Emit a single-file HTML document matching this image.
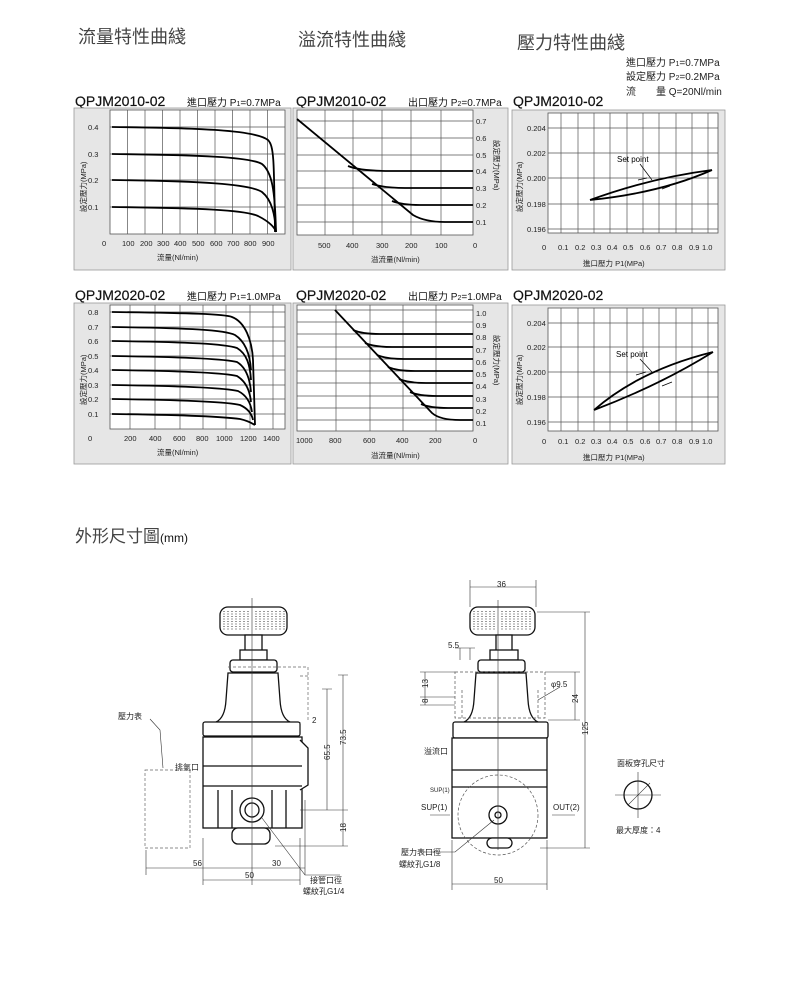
<!DOCTYPE html>
<html><head><meta charset="utf-8"><style>
html,body{margin:0;padding:0;background:#fff;}
svg{display:block;font-family:"Liberation Sans","Noto Sans CJK TC",sans-serif;}
</style></head><body>
<svg width="800" height="995" viewBox="0 0 800 995" xmlns="http://www.w3.org/2000/svg">
<rect width="800" height="995" fill="#fff"/>
<g font-size="18" fill="#444">
<text x="78" y="43">流量特性曲綫</text>
<text x="298" y="46">溢流特性曲綫</text>
<text x="517" y="49">壓力特性曲綫</text>
</g>
<g font-size="10" fill="#222">
<text x="626" y="66">進口壓力 P<tspan font-size="7">1</tspan>=0.7MPa</text>
<text x="626" y="80">設定壓力 P<tspan font-size="7">2</tspan>=0.2MPa</text>
<text x="626" y="95">流　　量 Q=20Nl/min</text>
</g>
<g fill="#111">
<text x="75" y="106" font-size="14" stroke="#111" stroke-width="0.2">QPJM2010-02</text>
<text x="187" y="106" font-size="10">進口壓力 P<tspan font-size="7">1</tspan>=0.7MPa</text>
<text x="296" y="106" font-size="14" stroke="#111" stroke-width="0.2">QPJM2010-02</text>
<text x="408" y="106" font-size="10">出口壓力 P<tspan font-size="7">2</tspan>=0.7MPa</text>
<text x="513" y="106" font-size="14" stroke="#111" stroke-width="0.2">QPJM2010-02</text>
<text x="75" y="300" font-size="14" stroke="#111" stroke-width="0.2">QPJM2020-02</text>
<text x="187" y="300" font-size="10">進口壓力 P<tspan font-size="7">1</tspan>=1.0MPa</text>
<text x="296" y="300" font-size="14" stroke="#111" stroke-width="0.2">QPJM2020-02</text>
<text x="408" y="300" font-size="10">出口壓力 P<tspan font-size="7">2</tspan>=1.0MPa</text>
<text x="513" y="300" font-size="14" stroke="#111" stroke-width="0.2">QPJM2020-02</text>
</g>
<g fill="#e6e6e6" stroke="#999" stroke-width="0.8">
<rect x="74" y="108" width="217" height="162"/>
<rect x="293" y="108" width="215" height="162"/>
<rect x="512" y="110" width="213" height="160"/>
<rect x="74" y="303" width="217" height="161"/>
<rect x="293" y="303" width="215" height="161"/>
<rect x="512" y="305" width="213" height="159"/>
</g>
<g fill="#fff" stroke="#555" stroke-width="0.8">
<rect x="110" y="110" width="175" height="124"/>
<rect x="297" y="110" width="176" height="125"/>
<rect x="548" y="113" width="170" height="120"/>
<rect x="110" y="305" width="175" height="124"/>
<rect x="297" y="305" width="176" height="126"/>
<rect x="548" y="308" width="170" height="123"/>
</g>
<g stroke="#555" stroke-width="0.7">
<path d="M127.5 110V234M145 110V234M162.5 110V234M180 110V234M197.5 110V234M215 110V234M232.5 110V234M250 110V234M267.5 110V234M110 127H285M110 154H285M110 180H285M110 207H285"/>
<path d="M325 110V235M353 110V235M382 110V235M411 110V235M441 110V235M297 121H473M297 138H473M297 155H473M297 171H473M297 188H473M297 205H473M297 222H473"/>
<path d="M561 113V233M578 113V233M594 113V233M610 113V233M627 113V233M643 113V233M659 113V233M676 113V233M692 113V233M708 113V233M548 128H718M548 153H718M548 178H718M548 204H718M548 229H718"/>
<path d="M130 305V429M155 305V429M180 305V429M203 305V429M226 305V429M250 305V429M273 305V429M110 312H285M110 327H285M110 341H285M110 356H285M110 370H285M110 385H285M110 399H285M110 414H285"/>
<path d="M336 305V431M370 305V431M403 305V431M436 305V431M297 310H473M297 322H473M297 334H473M297 347H473M297 359H473M297 371H473M297 383H473M297 396H473M297 408H473M297 420H473"/>
<path d="M561 308V431M578 308V431M594 308V431M610 308V431M627 308V431M643 308V431M659 308V431M676 308V431M692 308V431M708 308V431M548 323H718M548 347H718M548 372H718M548 397H718M548 422H718"/>
</g>
<g fill="none" stroke="#000" stroke-width="1.8">
<path d="M112 127C200 128 255 130 268 140C274 146 274 160 275 232"/>
<path d="M112 154C200 155 250 157 262 164C272 172 275 190 276 232"/>
<path d="M112 180C200 181 250 184 262 192C272 200 275 215 276 232"/>
<path d="M112 207C200 208 245 210 258 216C270 222 275 228 276 232"/>
<path d="M297 119L413 215Q425 222 445 222L473 222"/>
<path d="M348 166Q360 171 390 171L473 171"/>
<path d="M372 184Q385 188 405 188L473 188"/>
<path d="M392 201Q402 205 420 205L473 205"/>
<path d="M590 200Q650 178 712 170M590 200Q660 193 712 170"/>
<path d="M112 312C190 313 225 314 232 317C245 322 252 340 253 360L255 425"/>
<path d="M112 327C190 328 225 330 235 335C246 342 250 355 251 370"/>
<path d="M112 341C190 342 225 344 237 348C247 354 250 365 251 380"/>
<path d="M112 356C190 357 225 359 237 362C247 368 250 380 251 392"/>
<path d="M112 370C190 371 225 373 237 376C247 382 250 392 251 402"/>
<path d="M112 385C190 386 225 388 238 391C248 396 251 405 252 412"/>
<path d="M112 399C190 400 228 402 240 405C249 409 252 415 253 420"/>
<path d="M112 414C190 415 225 417 240 419C249 421 253 424 255 425"/>
<path d="M335 310L432 413Q440 420 460 420L473 420"/>
<path d="M353 330Q362 334 380 334L473 334"/>
<path d="M365 343Q374 347 392 347L473 347"/>
<path d="M377 355Q386 359 404 359L473 359"/>
<path d="M388 367Q397 371 415 371L473 371"/>
<path d="M399 379Q408 383 426 383L473 383"/>
<path d="M410 392Q419 396 437 396L473 396"/>
<path d="M421 404Q430 408 448 408L473 408"/>
<path d="M594 410Q640 370 713 352M594 410Q660 385 713 352"/>
</g>
<g font-size="8" fill="#000">
<text x="617" y="162">Set point</text>
<text x="616" y="357">Set point</text>
</g>
<g stroke="#000" stroke-width="0.7" fill="none">
<path d="M640 164L652 180M638 180L647 178M670 186L662 189"/>
<path d="M640 359L652 372M636 375L646 372M672 382L662 386"/>
</g>
<g font-size="7.5" fill="#222">
<text x="88" y="130">0.4</text><text x="88" y="157">0.3</text><text x="88" y="183">0.2</text><text x="88" y="210">0.1</text>
<text x="102" y="246">0</text><text x="122" y="246">100</text><text x="140" y="246">200</text><text x="157" y="246">300</text><text x="174" y="246">400</text><text x="192" y="246">500</text><text x="210" y="246">600</text><text x="227" y="246">700</text><text x="244" y="246">800</text><text x="262" y="246">900</text>
<text x="157" y="260">流量(Nl/min)</text>
<text x="476" y="124">0.7</text><text x="476" y="141">0.6</text><text x="476" y="158">0.5</text><text x="476" y="174">0.4</text><text x="476" y="191">0.3</text><text x="476" y="208">0.2</text><text x="476" y="225">0.1</text>
<text x="318" y="248">500</text><text x="346" y="248">400</text><text x="376" y="248">300</text><text x="405" y="248">200</text><text x="435" y="248">100</text><text x="473" y="248">0</text>
<text x="371" y="262">溢流量(Nl/min)</text>
<text x="527" y="131">0.204</text><text x="527" y="156">0.202</text><text x="527" y="181">0.200</text><text x="527" y="207">0.198</text><text x="527" y="232">0.196</text>
<text x="542" y="250">0</text><text x="558" y="250">0.1</text><text x="575" y="250">0.2</text><text x="591" y="250">0.3</text><text x="607" y="250">0.4</text><text x="623" y="250">0.5</text><text x="640" y="250">0.6</text><text x="656" y="250">0.7</text><text x="672" y="250">0.8</text><text x="689" y="250">0.9</text><text x="702" y="250">1.0</text>
<text x="583" y="266">進口壓力 P1(MPa)</text>
<text x="88" y="315">0.8</text><text x="88" y="330">0.7</text><text x="88" y="344">0.6</text><text x="88" y="359">0.5</text><text x="88" y="373">0.4</text><text x="88" y="388">0.3</text><text x="88" y="402">0.2</text><text x="88" y="417">0.1</text>
<text x="88" y="441">0</text><text x="124" y="441">200</text><text x="149" y="441">400</text><text x="173" y="441">600</text><text x="196" y="441">800</text><text x="216" y="441">1000</text><text x="240" y="441">1200</text><text x="263" y="441">1400</text>
<text x="157" y="455">流量(Nl/min)</text>
<text x="476" y="316">1.0</text><text x="476" y="328">0.9</text><text x="476" y="340">0.8</text><text x="476" y="353">0.7</text><text x="476" y="365">0.6</text><text x="476" y="377">0.5</text><text x="476" y="389">0.4</text><text x="476" y="402">0.3</text><text x="476" y="414">0.2</text><text x="476" y="426">0.1</text>
<text x="296" y="443">1000</text><text x="329" y="443">800</text><text x="363" y="443">600</text><text x="396" y="443">400</text><text x="429" y="443">200</text><text x="473" y="443">0</text>
<text x="371" y="458">溢流量(Nl/min)</text>
<text x="527" y="326">0.204</text><text x="527" y="350">0.202</text><text x="527" y="375">0.200</text><text x="527" y="400">0.198</text><text x="527" y="425">0.196</text>
<text x="542" y="444">0</text><text x="558" y="444">0.1</text><text x="575" y="444">0.2</text><text x="591" y="444">0.3</text><text x="607" y="444">0.4</text><text x="623" y="444">0.5</text><text x="640" y="444">0.6</text><text x="656" y="444">0.7</text><text x="672" y="444">0.8</text><text x="689" y="444">0.9</text><text x="702" y="444">1.0</text>
<text x="583" y="460">進口壓力 P1(MPa)</text>
</g>
<g font-size="7.5" fill="#222">
<text transform="translate(86,212) rotate(-90)">設定壓力(MPa)</text>
<text transform="translate(86,405) rotate(-90)">設定壓力(MPa)</text>
<text transform="translate(494,140) rotate(90)">設定壓力(MPa)</text>
<text transform="translate(494,335) rotate(90)">設定壓力(MPa)</text>
<text transform="translate(522,212) rotate(-90)">設定壓力(MPa)</text>
<text transform="translate(522,405) rotate(-90)">設定壓力(MPa)</text>
</g>
<text x="75" y="542" font-size="17" fill="#444">外形尺寸圖<tspan font-size="12" fill="#111">(mm)</tspan></text>

<!-- LEFT DRAWING -->
<g fill="#fff" stroke="#111" stroke-width="1.3">
<rect x="220" y="607" width="67" height="28" rx="8"/>
<rect x="245" y="635" width="17" height="16"/>
<rect x="240" y="650" width="27" height="10"/>
<rect x="230" y="660" width="47" height="12" rx="3"/>
<path d="M228 673H278L280 700Q281 718 290 722H216Q225 718 226 700Z"/>
<rect x="203" y="722" width="97" height="14" rx="2"/>
<rect x="203" y="737" width="99" height="91"/>
<path d="M203 766H302M203 786H302M300 740L308 748V785L300 790"/>
<rect x="232" y="828" width="38" height="16" rx="6"/>
<circle cx="252" cy="810" r="12"/>
<circle cx="252" cy="810" r="7"/>
<path d="M218 790V828M286 790V828M232 790V828M272 790V828"/>
</g>
<g stroke="#333" stroke-width="1" stroke-dasharray="1 1.5">
<path d="M224 611V631M228 611V631M232 611V631M236 611V631M240 611V631M244 611V631M248 611V631M256 611V631M260 611V631M264 611V631M268 611V631M272 611V631M276 611V631M280 611V631M284 611V631"/>
<path d="M474 611V631M478 611V631M482 611V631M486 611V631M490 611V631M494 611V631M502 611V631M506 611V631M510 611V631M514 611V631M518 611V631M522 611V631M526 611V631M530 611V631"/>
</g>
<g fill="none" stroke="#666" stroke-width="0.7" stroke-dasharray="3 2">
<rect x="145" y="770" width="45" height="78"/>
<path d="M228 667H308V720M300 676H308"/>
</g>
<g fill="none" stroke="#333" stroke-width="0.6">
<path d="M252 598V885"/>
<path d="M322 689H332M327 689V810M338 675H348M343 675V846M300 810H348M275 846H348"/>
<path d="M146 850V875M305 800V875M203 838V885M300 838V885M146 868H305M203 880H300"/>
<path d="M262 818L305 875H340M150 719L160 730L163 768M300 722V735"/>
</g>
<g font-size="8" fill="#222">
<text x="330" y="760" transform="rotate(-90 330 760)">65.5</text>
<text x="346" y="745" transform="rotate(-90 346 745)">73.5</text>
<text x="346" y="832" transform="rotate(-90 346 832)">18</text>
<text x="312" y="723">2</text>
<text x="193" y="866">56</text>
<text x="272" y="866">30</text>
<text x="245" y="878">50</text>
<text x="310" y="883">接管口徑</text>
<text x="303" y="894">螺紋孔G1/4</text>
<text x="118" y="719">壓力表</text>
<text x="175" y="770">排氣口</text>
</g>

<!-- RIGHT DRAWING -->
<g fill="#fff" stroke="#111" stroke-width="1.3">
<rect x="470" y="607" width="65" height="28" rx="8" fill="none"/>
<rect x="496" y="635" width="16" height="18"/>
<rect x="490" y="650" width="28" height="10"/>
<rect x="478" y="660" width="47" height="12" rx="3"/>
<path d="M476 673H526L528 700Q529 718 538 722H464Q473 718 474 700Z"/>
<rect x="453" y="722" width="95" height="16" rx="2"/>
<rect x="452" y="738" width="95" height="100"/>
<path d="M452 770H547M452 787H547"/>
<rect x="487" y="838" width="25" height="10" rx="5"/>
<circle cx="498" cy="815" r="9"/>
<circle cx="498" cy="815" r="3"/>
<circle cx="638" cy="795" r="14"/>
</g>
<g fill="none" stroke="#555" stroke-width="0.7" stroke-dasharray="3 2">
<circle cx="498" cy="815" r="40"/>
<path d="M455 672H545V718H455ZM462 690V718M538 690V718"/>
</g>
<g fill="none" stroke="#333" stroke-width="0.6">
<path d="M498 600V850"/>
<path d="M470 580V607M536 580V607M470 587H536M537 612H590M540 848H590M585 612V848M545 672H580M575 672V720M548 720H580M420 672H455M420 697H455M420 705H455M425 672V705M460 648V660M470 648V660M455 648H475"/>
<path d="M452 840V890M547 840V890M452 884H547M494 820L455 852H420M538 700L560 687M615 795H661M638 772V818M628 805L650 783"/>
<path d="M430 815H450M552 815H575"/>
</g>
<g font-size="8" fill="#222">
<text x="497" y="587">36</text>
<text x="448" y="648">5.5</text>
<text x="428" y="688" transform="rotate(-90 428 688)">13</text>
<text x="428" y="703" transform="rotate(-90 428 703)">8</text>
<text x="551" y="687">φ9.5</text>
<text x="578" y="703" transform="rotate(-90 578 703)">24</text>
<text x="588" y="735" transform="rotate(-90 588 735)">125</text>
<text x="424" y="754">溢流口</text>
<text x="430" y="792" font-size="6">SUP(1)</text>
<text x="421" y="810">SUP(1)</text>
<text x="553" y="810">OUT(2)</text>
<text x="401" y="855">壓力表口徑</text>
<text x="399" y="867">螺紋孔G1/8</text>
<text x="494" y="883">50</text>
<text x="617" y="766">面板穿孔尺寸</text>
<text x="616" y="833">最大厚度：4</text>
</g>
</svg>
</body></html>
